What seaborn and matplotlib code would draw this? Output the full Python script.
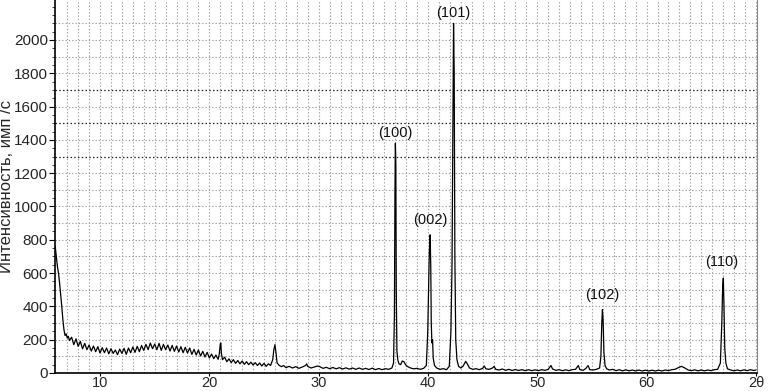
import numpy as np
import pandas as pd
import matplotlib
matplotlib.use("Agg")
import matplotlib.pyplot as plt
import seaborn as sns
from matplotlib.ticker import MultipleLocator

# ---- data (2theta, counts) ----
low_2theta = [5.9, 6.0, 6.1, 6.2, 6.3, 6.4, 6.5, 6.6, 6.7, 6.8, 6.9, 7.0, 7.1, 7.2,
              7.4, 7.6, 7.8, 8.0, 8.2, 8.4, 8.6, 8.8, 9.0, 9.2, 9.4, 9.6, 9.8, 10.0,
              10.2, 10.4, 10.6, 10.8, 11.0, 11.2, 11.4, 11.6, 11.8, 12.0, 12.2, 12.4,
              12.6, 12.8, 13.0, 13.2, 13.4, 13.6, 13.8, 14.0, 14.2, 14.4, 14.6, 14.8,
              15.0, 15.2, 15.4, 15.6, 15.8, 16.0, 16.2, 16.4, 16.6, 16.8, 17.0, 17.2,
              17.4, 17.6, 17.8, 18.0, 18.2, 18.4, 18.6, 18.8, 19.0, 19.2, 19.4, 19.6,
              19.8, 20.0, 20.2, 20.4, 20.6, 20.8, 20.9, 21.0, 21.05, 21.1, 21.2]
low_counts = [760, 700, 640, 600, 540, 470, 400, 320, 260, 225, 235, 210, 220, 195,
              215, 170, 205, 160, 190, 145, 178, 140, 168, 132, 162, 128, 158, 120,
              152, 122, 150, 115, 146, 118, 138, 110, 144, 118, 148, 112,
              150, 122, 156, 124, 160, 128, 165, 136, 172, 140, 180, 146,
              174, 140, 178, 136, 172, 140, 168, 132, 166, 130, 162, 126,
              158, 122, 154, 120, 150, 112, 142, 108, 138, 102, 130, 96,
              124, 90, 114, 86, 108, 82, 110, 175, 180, 120, 80]

mid_2theta = [21.4, 21.6, 21.8, 22.0, 22.2, 22.4, 22.6, 22.8, 23.0, 23.2, 23.4, 23.6,
              23.8, 24.0, 24.2, 24.4, 24.6, 24.8, 25.0, 25.2, 25.4, 25.6, 25.8, 25.9,
              26.0, 26.1, 26.2, 26.4, 26.6, 26.8, 27.0, 27.3, 27.6, 27.9, 28.2, 28.5,
              28.8, 28.9, 29.0, 29.3, 29.6, 29.9, 30.1, 30.4, 30.7, 31.0, 31.3, 31.6,
              31.9, 32.2, 32.5, 32.8, 33.1, 33.4, 33.7, 34.0, 34.3, 34.6, 34.9, 35.2,
              35.5, 35.8, 36.1, 36.4, 36.7]
mid_counts = [95, 68, 85, 62, 80, 58, 75, 55, 72, 52, 68, 50,
              65, 48, 62, 45, 60, 42, 58, 40, 55, 45, 80, 140,
              170, 120, 60, 45, 38, 45, 32, 40, 30, 38, 28, 36,
              45, 55, 40, 30, 36, 42, 38, 28, 34, 26, 33, 25,
              32, 24, 31, 23, 30, 22, 30, 22, 28, 21, 29, 20,
              27, 20, 26, 22, 30]

main_2theta = [36.85, 36.93, 36.98, 37.02, 37.06, 37.1, 37.16, 37.25, 37.35, 37.5,
               37.65, 37.8, 37.95, 38.1, 38.4, 38.7, 39.0, 39.3, 39.6, 39.85, 39.98,
               40.05, 40.12, 40.2, 40.26, 40.3, 40.36, 40.42, 40.48, 40.6, 40.8, 41.1,
               41.4, 41.7, 41.95, 42.1, 42.2, 42.28, 42.34, 42.4, 42.46, 42.54, 42.65,
               42.8, 43.0, 43.2, 43.45, 43.6, 43.8, 44.1, 44.4, 44.7, 45.0, 45.15,
               45.3, 45.6, 45.9, 46.05, 46.2, 46.5]
main_counts = [60, 350, 1100, 1380, 1250, 500, 130, 75, 55, 50,
               72, 68, 50, 40, 30, 25, 28, 22, 28, 45, 250,
               500, 720, 830, 620, 300, 180, 200, 90, 45, 30, 22,
               26, 20, 40, 250, 650, 1450, 2100, 1800, 700, 200, 80,
               40, 30, 40, 70, 55, 30, 22, 26, 20, 28, 42,
               25, 22, 30, 40, 22, 18]

high_2theta = [46.8, 47.1, 47.4, 47.7, 48.0, 48.3, 48.6, 48.9, 49.2, 49.5, 49.8, 50.1,
               50.4, 50.7, 51.0, 51.25, 51.4, 51.7, 52.0, 52.3, 52.6, 52.9, 53.2, 53.5,
               53.75, 53.9, 54.2, 54.45, 54.65, 54.8, 55.1, 55.4, 55.7, 55.82, 55.9,
               55.96, 56.02, 56.1, 56.2, 56.35, 56.6, 56.9, 57.2, 57.5, 57.8, 58.1,
               58.4, 58.7, 59.0, 59.3, 59.6, 59.9, 60.2, 60.5, 60.8, 61.1, 61.4, 61.7,
               62.0, 62.3, 62.6, 62.9, 63.2, 63.5, 63.8, 64.1, 64.4, 64.7, 65.0, 65.3,
               65.6, 65.9, 66.2, 66.5, 66.75, 66.88, 66.96, 67.02, 67.08, 67.15, 67.25,
               67.4, 67.7, 68.0, 68.3, 68.6, 68.9, 69.2, 69.5, 69.8, 70.0]
high_counts = [24, 16, 22, 15, 21, 15, 20, 14, 20, 14, 19, 14,
               20, 16, 22, 45, 24, 16, 20, 14, 19, 14, 20, 22,
               45, 20, 16, 28, 45, 20, 18, 22, 30, 100, 300,
               380, 320, 120, 45, 25, 18, 22, 14, 20, 13, 19,
               13, 18, 12, 18, 12, 17, 12, 17, 12, 17, 12, 18,
               14, 20, 22, 32, 40, 30, 18, 14, 19, 13, 18, 13,
               18, 14, 20, 22, 60, 300, 520, 570, 400, 150, 60,
               25, 18, 13, 18, 13, 19, 14, 20, 15, 18]

peak_labels = ["(100)", "(002)", "(101)", "(102)", "(110)"]
label_2theta = [37.0, 40.2, 42.3, 55.9, 66.9]
label_counts = [1400, 875, 2120, 425, 625]

x_ticks = [10, 20, 30, 40, 50, 60, 70]
x_tick_labels = ["10", "20", "30", "40", "50", "60", "2θ"]
y_label = "Интенсивность, имп /с"

df = pd.DataFrame({
    "two_theta": low_2theta + mid_2theta + main_2theta + high_2theta,
    "counts": low_counts + mid_counts + main_counts + high_counts,
})

sns.set_style("white")
plt.rcParams["font.family"] = ["Liberation Sans", "DejaVu Sans"]

fig = plt.figure(figsize=(7.68, 3.91), dpi=100)
ax = fig.add_axes([55 / 768, 18 / 391, 702 / 768, 373 / 391])

sns.lineplot(data=df, x="two_theta", y="counts", ax=ax, sort=False,
             color="black", linewidth=0.9, zorder=3)

ax.set_xlim(5.88, 70.1)
ax.set_ylim(0, 2240)

# grid
ax.yaxis.set_minor_locator(MultipleLocator(50))
for xv in np.arange(7, 71, 1):
    ax.axvline(xv, color="#a0a0a0", linestyle=(0, (1.2, 1.8)), linewidth=0.8, zorder=1)
for yv in range(100, 2200, 100):
    dark = yv in (1300, 1500, 1700)
    ax.axhline(yv, color="#222222" if dark else "#a0a0a0",
               linestyle=(0, (1.2, 1.8)), linewidth=0.9 if dark else 0.8, zorder=1)

ax.set_xticks(x_ticks)
ax.set_xticklabels(x_tick_labels)
ax.set_yticks(range(0, 2100, 200))
ax.tick_params(axis="y", which="major", labelsize=11, length=4, width=0.8,
               color="black", pad=1, left=True)
ax.tick_params(axis="y", which="minor", length=2, width=0.6, left=True)
ax.tick_params(axis="x", which="major", labelsize=10.5, length=2, width=0.8,
               color="black", pad=0.5, bottom=True)

ax.set_xlabel("")
ax.set_ylabel(y_label, fontsize=12)
ax.yaxis.set_label_coords(-41 / 702, 0.5)

ax.spines["top"].set_visible(False)
ax.spines["left"].set_color("black")
ax.spines["left"].set_linewidth(1.2)
ax.spines["bottom"].set_color("black")
ax.spines["bottom"].set_linewidth(1.2)
ax.spines["right"].set_color("#888888")
ax.spines["right"].set_linewidth(0.8)

for lab, lx, ly in zip(peak_labels, label_2theta, label_counts):
    ax.text(lx, ly, lab, ha="center", va="bottom", fontsize=10.5, color="#111111")

fig.savefig("out.png", dpi=100)
